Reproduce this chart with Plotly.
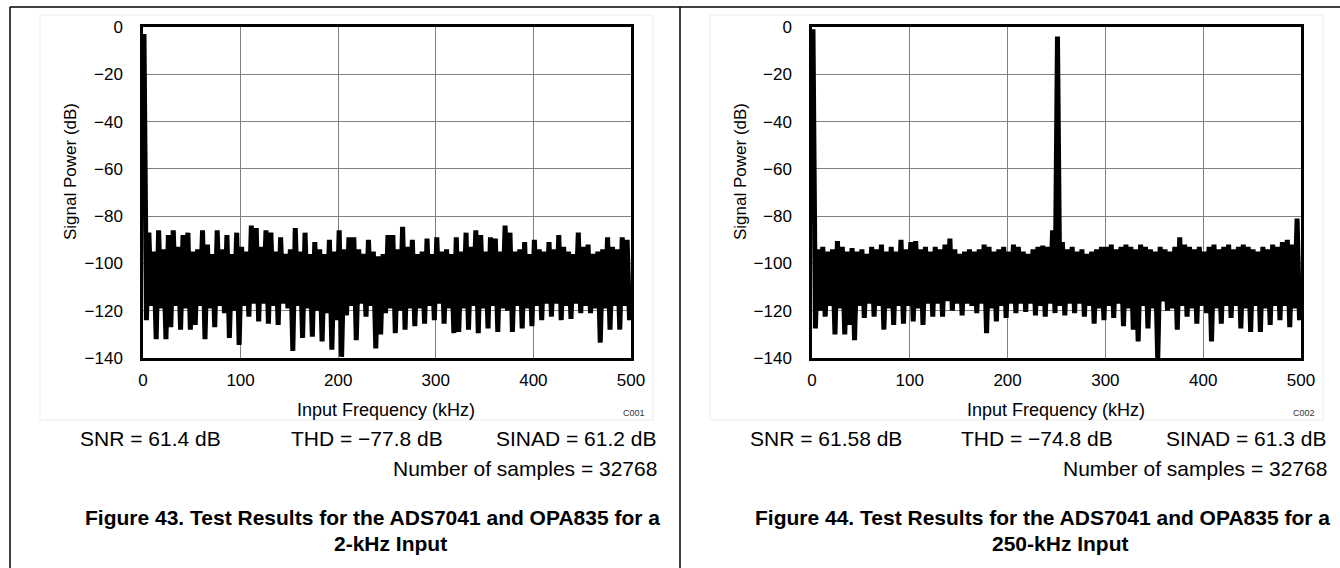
import plotly.graph_objects as go

W, H = 1340, 568
FONT = "Liberation Sans, Arial, sans-serif"

# ── Data ───────────────────────────────────────────────────────────────────────
# FFT: for every 5-kHz slot the highest and lowest level (dB)
BIN_KHZ = 5

X_TICKS = [0, 100, 200, 300, 400, 500]
Y_TICKS = [-140, -120, -100, -80, -60, -40, -20, 0]
Y_TICK_TEXT = ["\u2212140", "\u2212120", "\u2212100", "\u221280", "\u221260", "\u221240", "\u221220", "0"]

# Figure 43: 2-kHz input (first slot holds the tone)
TOP_43 = [-3, -87, -95, -86, -94, -88, -86, -93, -88, -87,
          -95, -94, -86, -92, -96, -86, -94, -88, -96, -87,
          -93, -95, -84, -85, -93, -86, -87, -95, -89, -96,
          -94, -85, -95, -87, -96, -91, -94, -96, -90, -95,
          -86, -94, -89, -89, -94, -96, -90, -95, -97, -96,
          -88, -88, -94, -84.5, -93, -90, -96, -95, -89.5, -96,
          -89, -95, -94, -96, -89, -95, -87, -93, -86, -88,
          -95, -89, -89.5, -95, -84, -87, -95, -94, -91, -96,
          -90, -94, -95, -91, -94, -88, -93, -95, -96, -87,
          -93, -92, -96, -95, -94, -89, -93, -94, -89, -90]
BOT_43 = [-124, -118, -132, -119, -132, -127, -118, -128, -119, -128,
          -126, -118, -132, -119, -127, -118, -121, -131.5, -120, -134.5,
          -118, -122.5, -117, -124.5, -117, -125.5, -118, -126, -117, -119,
          -137, -118, -131.5, -119, -131, -120, -133, -121, -136.5, -124,
          -139.5, -122, -118, -132.5, -117, -122.5, -118, -136, -130, -121,
          -119, -129.5, -120, -128, -119, -126.5, -119, -125.5, -118, -124,
          -117, -125.5, -119, -129.5, -129, -119, -128, -118, -129.5, -119,
          -127.5, -118, -129, -119, -120, -129, -118, -127.5, -119, -126.5,
          -118, -124, -117, -122.5, -117, -124, -118, -123.5, -117, -121,
          -118, -121, -119, -133.5, -119, -128, -118, -128, -118, -124]

# Figure 44: 250-kHz input (DC in slot 0, tone in slot 50, spur near 500 kHz)
TOP_44 = [-1, -94, -93, -95, -94, -90.5, -93, -95, -93.5, -95,
          -94, -96, -93, -94, -92, -95, -93, -95, -90, -94,
          -91, -90.5, -94, -93, -95, -93, -94, -92, -89.5, -94,
          -96, -95, -94, -95, -94, -92, -93, -95, -94, -93,
          -95, -92, -93, -95, -96, -94, -93, -92.5, -93, -86,
          -4, -91, -94, -93, -95, -94, -96, -95, -94, -93,
          -93, -92, -94, -93, -92, -93, -94, -92, -93, -94,
          -95, -93, -94, -95, -93, -89, -92, -93, -94, -93,
          -95, -93, -92, -94, -93, -92, -94, -93, -92, -93,
          -94, -95, -93, -94, -92, -93, -91, -90, -92, -81]
BOT_44 = [-127.5, -120, -122.5, -118, -130, -119, -130, -126, -132.5, -118,
          -123, -117, -122.5, -118, -128, -119, -126, -118, -125.5, -118,
          -124.5, -119, -126, -117, -122.5, -117, -122.5, -116, -120, -117,
          -122, -117, -118, -121, -117, -129.5, -119, -124.5, -118, -123,
          -117, -121, -117, -120.5, -117, -122, -118, -122.5, -117, -121,
          -118, -122, -117, -121, -117, -122.5, -118, -125.5, -119, -124,
          -118, -123, -117, -126.5, -119, -128, -133, -118, -127.5, -119,
          -141, -116, -120, -119, -128, -118, -122.5, -119, -125.5, -118,
          -121, -133, -119, -125.5, -118, -123, -118, -127.5, -119, -129,
          -118, -129, -119, -126, -118, -124, -118, -127, -119, -124]

STATS_43 = ["SNR = 61.4 dB", "THD = \u221277.8 dB", "SINAD = 61.2 dB"]
STATS_44 = ["SNR = 61.58 dB", "THD = \u221274.8 dB", "SINAD = 61.3 dB"]
SAMPLES = "Number of samples = 32768"
CAPTION_43 = ["Figure 43. Test Results for the ADS7041 and OPA835 for a", "2-kHz Input"]
CAPTION_44 = ["Figure 44. Test Results for the ADS7041 and OPA835 for a", "250-kHz Input"]


def spectrum(top, bot):
    """Zig-zag between the high and low level of each slot."""
    xs, ys = [], []
    for i, (hi, lo) in enumerate(zip(top, bot)):
        xs += [i * BIN_KHZ + 1, i * BIN_KHZ + 3.5]
        ys += [hi, lo]
    return xs, ys


def px(x):
    return x / W


def py(y):
    return 1 - y / H


fig = go.Figure()
for n, (top, bot) in enumerate([(TOP_43, BOT_43), (TOP_44, BOT_44)]):
    xs, ys = spectrum(top, bot)
    fig.add_trace(go.Scatter(
        x=xs, y=ys, mode="lines",
        line=dict(color="black", width=5),
        xaxis="x" if n == 0 else "x2",
        yaxis="y" if n == 0 else "y2",
        showlegend=False,
    ))

axis_common = dict(
    showline=True, mirror=True, linecolor="black", linewidth=2.5,
    showgrid=True, gridcolor="#7f7f7f", gridwidth=1,
    zeroline=False, ticks="", automargin=False,
    tickfont=dict(family=FONT, size=17, color="black"),
)
x_common = dict(axis_common, range=[0, 500], tickvals=X_TICKS, ticklabelstandoff=5)
y_common = dict(axis_common, range=[-140, 0], tickvals=Y_TICKS, ticktext=Y_TICK_TEXT,
                ticklabelstandoff=14)

ydom = [py(358), py(27)]
fig.update_layout(
    template="none",
    width=W, height=H,
    margin=dict(l=0, r=0, t=0, b=0, pad=0),
    paper_bgcolor="white", plot_bgcolor="white",
    font=dict(family=FONT, color="black"),
    xaxis=dict(x_common, domain=[px(143), px(631)], anchor="y"),
    yaxis=dict(y_common, domain=ydom, anchor="x"),
    xaxis2=dict(x_common, domain=[px(812), px(1301)], anchor="y2"),
    yaxis2=dict(y_common, domain=ydom, anchor="x2"),
)

# faint chart-area boxes and the panel frame lines
for off in (0, 670):
    fig.add_shape(type="rect", xref="paper", yref="paper", layer="below",
                  x0=px(off + 40), x1=px(off + 653), y0=py(420), y1=py(15),
                  line=dict(color="#ededed", width=1))
frame = dict(type="line", xref="paper", yref="paper", line=dict(color="black", width=1.5))
fig.add_shape(frame, x0=px(10), x1=1, y0=py(7), y1=py(7))
fig.add_shape(frame, x0=px(10), x1=px(10), y0=py(7), y1=0)
fig.add_shape(frame, x0=px(680), x1=px(680), y0=py(7), y1=0)


def note(text, x, y, size, anchor="center", bold=False, angle=0, color="black"):
    fig.add_annotation(
        text=f"<b>{text}</b>" if bold else text,
        x=px(x), y=py(y), xref="paper", yref="paper",
        xanchor=anchor, yanchor="middle", showarrow=False, textangle=angle,
        font=dict(family=FONT, size=size, color=color),
    )


for off, stats, code, caption in [(0, STATS_43, "C001", CAPTION_43),
                                  (670, STATS_44, "C002", CAPTION_44)]:
    note("Signal Power (dB)", off + 70, 172, 17, angle=-90)
    note("Input Frequency (kHz)", off + 386, 410, 18)
    note(code, off + 634, 413, 9, color="#333333")
    note(stats[0], off + 78, 438, 21, anchor="left")
    note(stats[1], off + 289, 438, 21, anchor="left")
    note(stats[2], off + 659, 438, 21, anchor="right")
    note(SAMPLES, off + 659, 468, 21, anchor="right")
    note(caption[0], off + 372, 517, 21, bold=True)
    note(caption[1], off + 390, 543, 21, bold=True)

# the page's default body margin would push the fixed-size figure off by 8px
fig.write_html("out.html", config={"displayModeBar": False},
               post_script="document.body.style.margin = '0';")
